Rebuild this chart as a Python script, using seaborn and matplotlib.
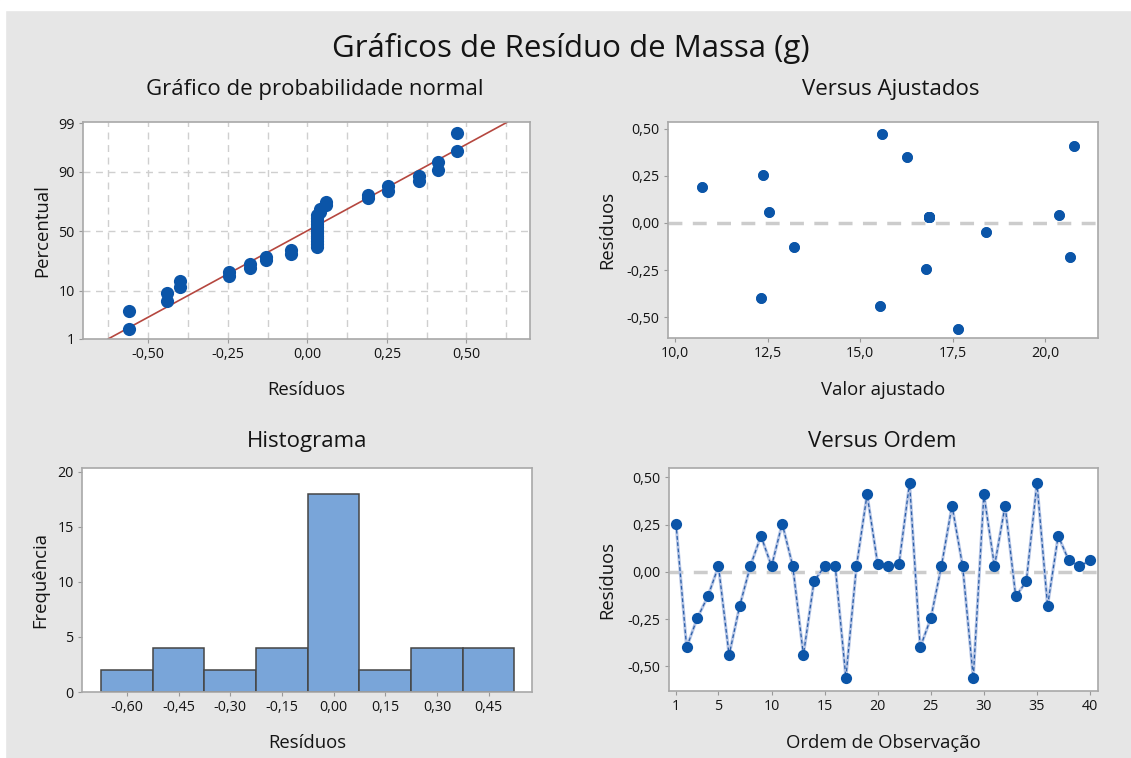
import numpy as np
import pandas as pd
import matplotlib
matplotlib.use("Agg")
import matplotlib.pyplot as plt
from matplotlib.ticker import FixedLocator, FuncFormatter
import seaborn as sns
from statistics import NormalDist

# ---------------- data ----------------
observation = list(range(1, 41))
residuals = [0.255, -0.40, -0.245, -0.13, 0.03, -0.44, -0.18, 0.03, 0.19, 0.03,
             0.255, 0.03, -0.44, -0.05, 0.03, 0.03, -0.56, 0.03, 0.41, 0.04,
             0.03, 0.04, 0.47, -0.40, -0.245, 0.03, 0.35, 0.03, -0.56, 0.41,
             0.03, 0.35, -0.13, -0.05, 0.47, -0.18, 0.19, 0.06, 0.03, 0.06]
fitted = [12.38, 12.32, 16.77, 13.21, 16.87, 15.54, 20.68, 16.87, 10.74, 16.87,
          12.38, 16.87, 15.54, 18.41, 16.87, 16.87, 17.66, 16.87, 20.79, 20.38,
          16.87, 20.38, 15.58, 12.32, 16.77, 16.87, 16.26, 16.87, 17.66, 20.79,
          16.87, 16.26, 13.21, 18.41, 15.58, 20.68, 10.74, 12.54, 16.87, 12.54]
prob_ticks = [1, 10, 50, 90, 99]
resid_ticks = [-0.50, -0.25, 0.00, 0.25, 0.50]
fit_ticks = [10.0, 12.5, 15.0, 17.5, 20.0]
hist_ticks = [-0.60, -0.45, -0.30, -0.15, 0.00, 0.15, 0.30, 0.45]
freq_ticks = [0, 5, 10, 15, 20]
order_ticks = [1, 5, 10, 15, 20, 25, 30, 35, 40]

df = pd.DataFrame({"Ordem": observation, "Residuo": residuals, "Ajustado": fitted})

# ---------------- style ----------------
sns.set_theme(style="white")
plt.rcParams["font.family"] = ["Open Sans", "DejaVu Sans"]

BG = "#e6e6e6"
BLUE = "#0b55a8"
SPINE = "#a8a8a8"
TXT = "#141414"
LABEL_FS = 13.3
TICK_FS = 10.3

W, H = 1131, 758
fig = plt.figure(figsize=(W / 100, H / 100), dpi=100, facecolor=BG)
# thin white margin at top/left as in the reference screenshot
fig.patches.append(plt.Rectangle((0, 1 - 10 / H), 1, 10 / H, transform=fig.transFigure,
                                 color="white", zorder=-5))
fig.patches.append(plt.Rectangle((0, 0), 5 / W, 1, transform=fig.transFigure,
                                 color="white", zorder=-5))


def box(l, t, r, b):
    return [l / W, 1 - b / H, (r - l) / W, (b - t) / H]


ax1 = fig.add_axes(box(83, 122, 530, 339))
ax2 = fig.add_axes(box(668, 122, 1098, 338))
ax3 = fig.add_axes(box(82, 468, 532, 692))
ax4 = fig.add_axes(box(669, 468, 1098, 691))

comma2 = FuncFormatter(lambda v, p: f"{v:.2f}".replace(".", ","))
comma1 = FuncFormatter(lambda v, p: f"{v:.1f}".replace(".", ","))

for ax in (ax1, ax2, ax3, ax4):
    ax.set_facecolor("white")
    for s in ax.spines.values():
        s.set_color(SPINE)
        s.set_linewidth(1.2)
    ax.tick_params(axis="both", which="both", direction="out", length=3, width=0.8,
                   color="#999999", labelsize=TICK_FS, labelcolor=TXT, pad=3,
                   bottom=True, left=True)

# ---------------- normal probability plot ----------------
nd = NormalDist()
r_sorted = np.sort(np.array(residuals))
n = len(r_sorted)
pp = (np.arange(1, n + 1) - 0.3) / (n + 0.4)
z = np.array([nd.inv_cdf(p) for p in pp])
mu, sd = r_sorted.mean(), r_sorted.std(ddof=1)
zlo, zhi = nd.inv_cdf(0.01), nd.inv_cdf(0.99) + 0.03
xgrid = np.arange(-0.625, 0.626, 0.125)
for xv in xgrid:
    ax1.axvline(xv, color="#cfcfcf", lw=1.0, ls=(0, (5, 4)), zorder=0)
for pv in prob_ticks[1:-1]:
    ax1.axhline(nd.inv_cdf(pv / 100), color="#cfcfcf", lw=1.0, ls=(0, (5, 4)), zorder=0)
zline = np.array([zlo, zhi])
sns.lineplot(x=mu + sd * zline, y=zline, ax=ax1, color="#b5473f", lw=1.2, zorder=2)
sns.scatterplot(x=r_sorted, y=z, ax=ax1, color=BLUE, s=90, edgecolor=BLUE, linewidth=0, zorder=3)
ax1.set_xlim(-0.705, 0.70)
ax1.set_ylim(zlo, zhi)
ax1.yaxis.set_major_locator(FixedLocator([nd.inv_cdf(p / 100) for p in prob_ticks]))
ax1.set_yticklabels([str(p) for p in prob_ticks])
ax1.xaxis.set_major_locator(FixedLocator(resid_ticks))
ax1.xaxis.set_major_formatter(comma2)
ax1.set_xlabel("Resíduos", fontsize=LABEL_FS, color=TXT)
ax1.set_ylabel("Percentual", fontsize=LABEL_FS, color=TXT)

# ---------------- versus fits ----------------
ax2.axhline(0, color="#cccccc", lw=2.5, ls=(0, (4, 3)), zorder=1)
sns.scatterplot(data=df, x="Ajustado", y="Residuo", ax=ax2, color=BLUE, s=60,
                edgecolor=BLUE, linewidth=0, zorder=3)
ax2.set_xlim(9.81, 21.43)
ax2.set_ylim(-0.61, 0.535)
ax2.xaxis.set_major_locator(FixedLocator(fit_ticks))
ax2.xaxis.set_major_formatter(comma1)
ax2.yaxis.set_major_locator(FixedLocator(resid_ticks))
ax2.yaxis.set_major_formatter(comma2)
ax2.set_xlabel("Valor ajustado", fontsize=LABEL_FS, color=TXT)
ax2.set_ylabel("Resíduos", fontsize=LABEL_FS, color=TXT)

# ---------------- histogram ----------------
edges = np.arange(-0.675, 0.53, 0.15)
sns.histplot(data=df, x="Residuo", bins=edges, ax=ax3, color="#79a5d9", alpha=1,
             edgecolor="#454545", linewidth=1.1, zorder=2)
ax3.set_xlim(-0.7307, 0.576)
ax3.set_ylim(0, 20.34)
ax3.xaxis.set_major_locator(FixedLocator(hist_ticks))
ax3.xaxis.set_major_formatter(comma2)
ax3.yaxis.set_major_locator(FixedLocator(freq_ticks))
ax3.set_xlabel("Resíduos", fontsize=LABEL_FS, color=TXT)
ax3.set_ylabel("Frequência", fontsize=LABEL_FS, color=TXT)

# ---------------- versus order ----------------
ax4.axhline(0, color="#cccccc", lw=2.5, ls=(0, (4, 3)), zorder=1)
sns.lineplot(data=df, x="Ordem", y="Residuo", ax=ax4, color="#b7c6e6", lw=2.2, zorder=2)
sns.lineplot(data=df, x="Ordem", y="Residuo", ax=ax4, color="#2a5ea8", lw=0.9,
             linestyle=(0, (3, 2)), zorder=3)
sns.scatterplot(data=df, x="Ordem", y="Residuo", ax=ax4, color=BLUE, s=65,
                edgecolor=BLUE, linewidth=0, zorder=4)
ax4.set_xlim(0.34, 40.75)
ax4.set_ylim(-0.63, 0.549)
ax4.xaxis.set_major_locator(FixedLocator(order_ticks))
ax4.yaxis.set_major_locator(FixedLocator(resid_ticks))
ax4.yaxis.set_major_formatter(comma2)
ax4.set_xlabel("Ordem de Observação", fontsize=LABEL_FS, color=TXT)
ax4.set_ylabel("Resíduos", fontsize=LABEL_FS, color=TXT)


# label placement (pixel-based)
def place(ax, box_px, xl_y, yl_x):
    l, t, r, b = box_px
    ax.xaxis.label.set_va("center")
    ax.yaxis.label.set_va("center")
    ax.xaxis.set_label_coords(0.5, (b - xl_y) / (b - t))
    ax.yaxis.set_label_coords((yl_x - l) / (r - l), 0.5)


place(ax1, (83, 122, 530, 339), 390, 42)
place(ax2, (668, 122, 1098, 338), 390, 607)
place(ax3, (82, 468, 532, 692), 743, 40)
place(ax4, (669, 468, 1098, 691), 743, 607)

# titles
fig.text(571 / W, 1 - 48 / H, "Gráficos de Resíduo de Massa (g)", ha="center", va="center",
         fontsize=22.5, color=TXT)
for x, y, s in [(315, 90, "Gráfico de probabilidade normal"), (891, 90, "Versus Ajustados"),
                (307, 441, "Histograma"), (882, 441, "Versus Ordem")]:
    fig.text(x / W, 1 - y / H, s, ha="center", va="center", fontsize=16, color=TXT)

fig.savefig("out.png", dpi=100, facecolor=BG)
